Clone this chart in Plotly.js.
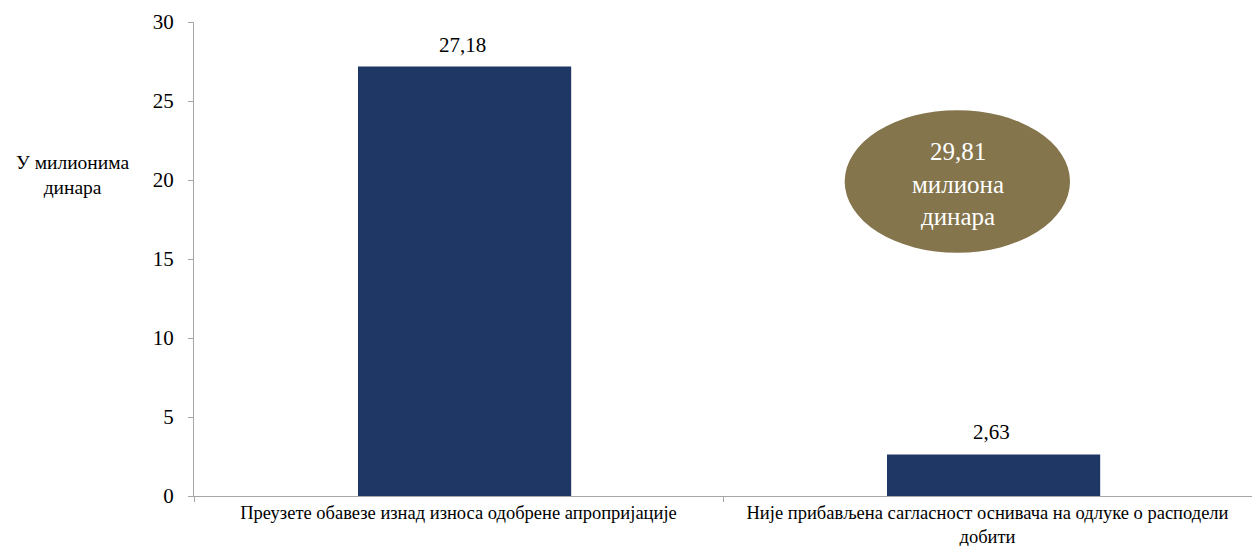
<!DOCTYPE html>
<html>
<head>
<meta charset="utf-8">
<script src="https://cdn.plot.ly/plotly-3.0.1.min.js"></script>
<style>html,body{margin:0;padding:0;background:#fff;}#chart{width:1252px;height:546px;}</style>
</head>
<body>
<div id="chart"></div>
<script>
const categories = [
  "Преузете обавезе изнад износа одобрене апропријације",
  "Није прибављена сагласност оснивача на одлуке о расподели<br>добити"
];
const values = [27.18, 2.63];
const valueLabels = ["27,18", "2,63"];
const yTicks = [0, 5, 10, 15, 20, 25, 30];
const yAxisLabel = "У милионима<br>динара";
const totalUnit = "милиона<br>динара";

const total = values.reduce((a, b) => a + b, 0);
const totalText = total.toFixed(2).replace(".", ",") + "<br>" + totalUnit;

const serif = "Liberation Serif";

const trace = {
  type: "bar",
  x: categories,
  y: values,
  marker: {color: "#1f3765"},
  width: 0.403,
  offset: -0.19,
  hoverinfo: "none"
};

const valueAnnotations = categories.map((c, i) => ({
  xref: "x", yref: "y",
  x: c, y: values[i],
  text: valueLabels[i],
  showarrow: false,
  xanchor: "center", yanchor: "bottom",
  xshift: 4, yshift: 8,
  font: {family: serif, size: 21, color: "#000"}
}));

const layout = {
  width: 1252,
  height: 546,
  margin: {l: 194, r: 0, t: 22, b: 50},
  paper_bgcolor: "#fff",
  plot_bgcolor: "#fff",
  showlegend: false,
  font: {family: serif, color: "#000"},
  xaxis: {
    type: "category",
    showgrid: false,
    showline: true,
    linecolor: "#a6a6a6",
    linewidth: 1,
    ticks: "outside",
    tickson: "boundaries",
    ticklen: 5,
    tickcolor: "#a6a6a6",
    tickfont: {family: serif, size: 18.5, color: "#000"},
    zeroline: false
  },
  yaxis: {
    range: [0, 30],
    tickvals: yTicks,
    showgrid: false,
    zeroline: false,
    showline: true,
    linecolor: "#a6a6a6",
    linewidth: 1,
    ticks: "outside",
    ticklen: 5,
    tickcolor: "#a6a6a6",
    tickfont: {family: serif, size: 21, color: "#000"},
    ticklabelstandoff: 10
  },
  shapes: [{
    type: "circle",
    xref: "paper", yref: "paper",
    x0: 0.615, x1: 0.828, y0: 0.513, y1: 0.814,
    fillcolor: "#84754c",
    line: {width: 0}
  }],
  annotations: valueAnnotations.concat([
    {
      xref: "paper", yref: "paper",
      x: 0.7217, y: 0.658,
      xanchor: "center", yanchor: "middle",
      text: totalText,
      showarrow: false,
      font: {family: serif, size: 25, color: "#fff"}
    },
    {
      xref: "paper", yref: "paper",
      x: -0.1145, y: 0.677,
      xanchor: "center", yanchor: "middle",
      text: yAxisLabel,
      showarrow: false,
      font: {family: serif, size: 19.5, color: "#000"}
    }
  ])
};

Plotly.newPlot("chart", [trace], layout, {displayModeBar: false, staticPlot: true});
</script>
</body>
</html>
